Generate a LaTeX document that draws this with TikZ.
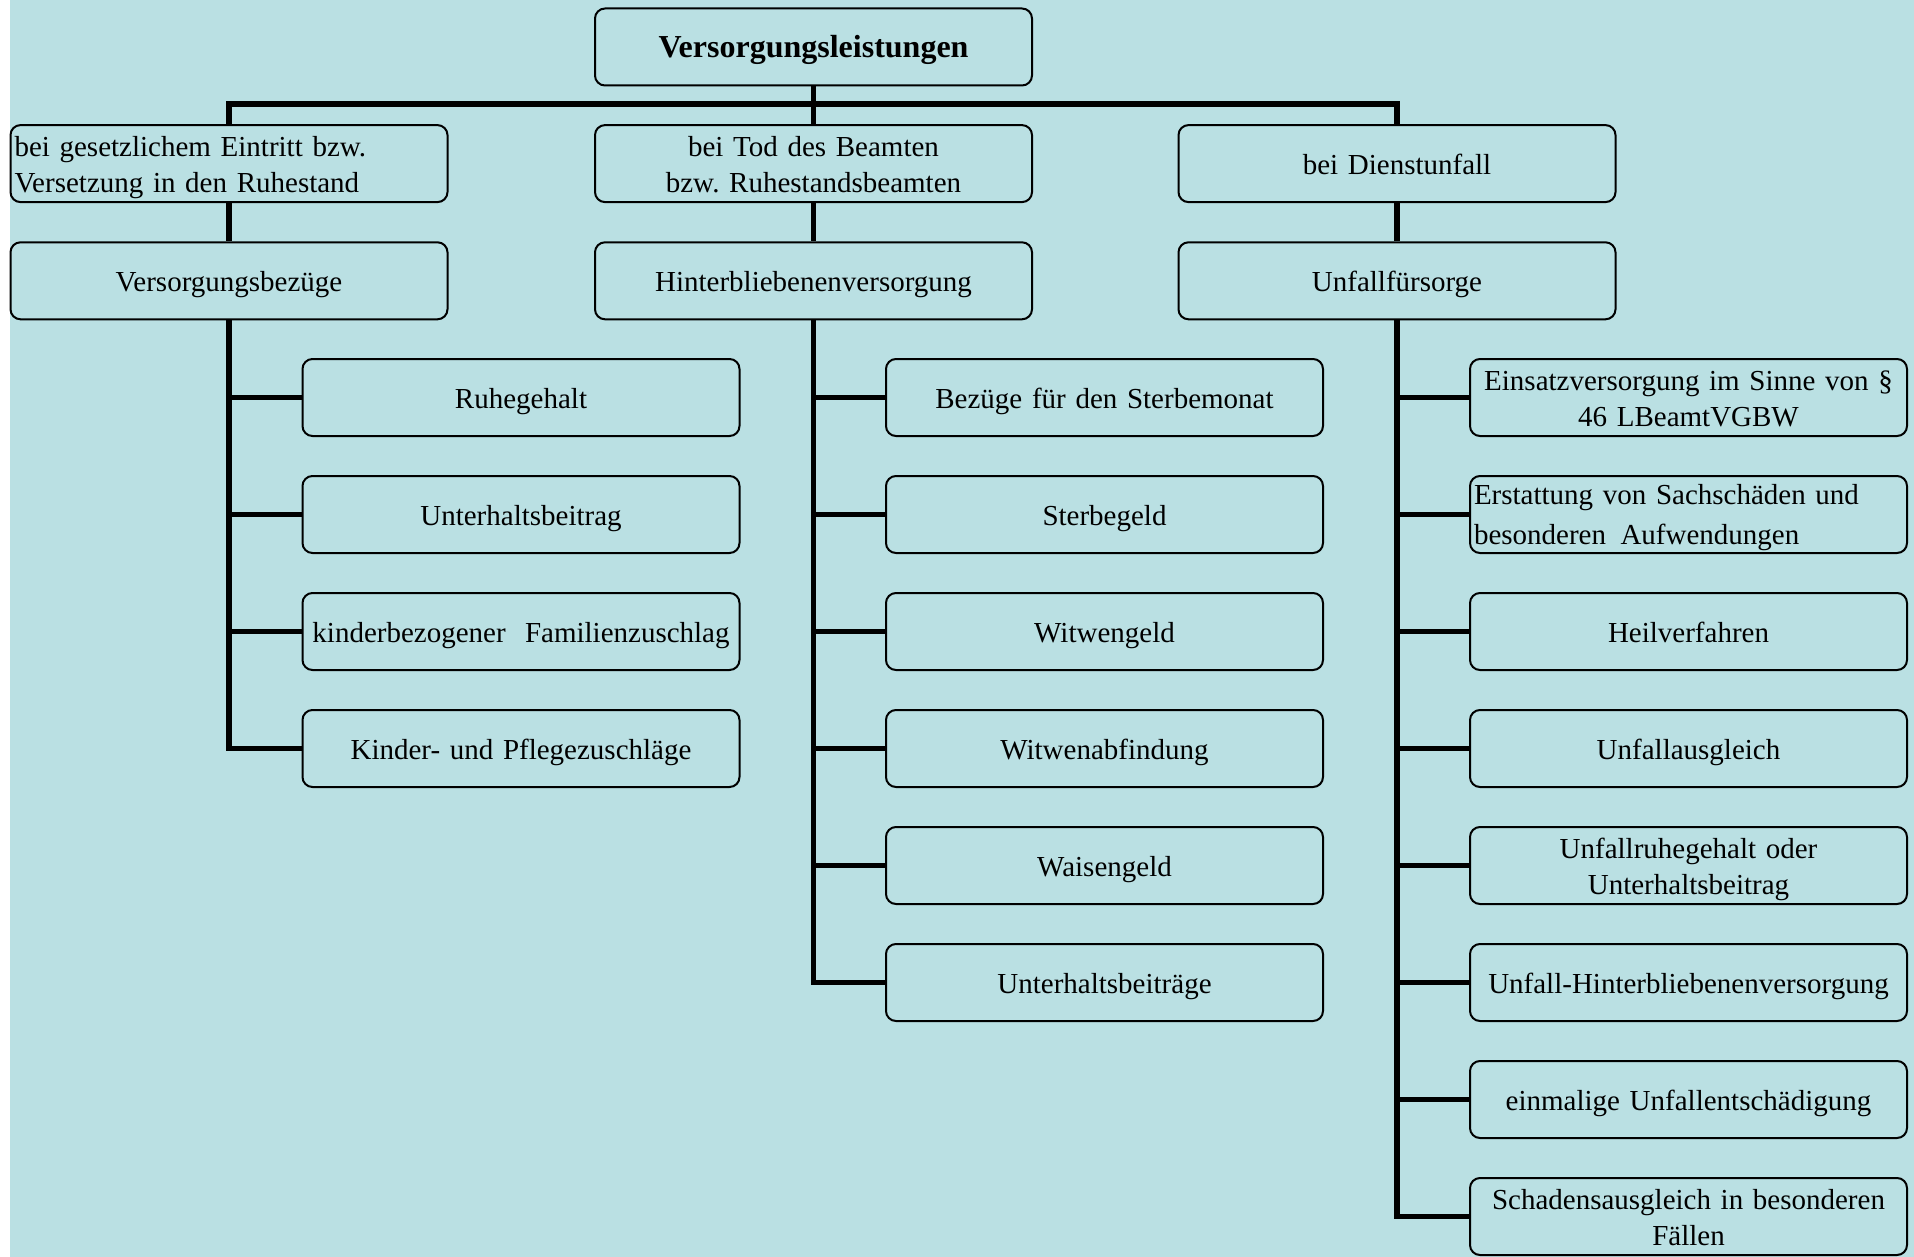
\documentclass[tikz,border=0pt]{standalone}
\usepackage{fontspec}
\setmainfont{Liberation Serif}
\frenchspacing
\definecolor{bgc}{RGB}{186,224,227}
\begin{document}
\begin{tikzpicture}[x=1pt,y=-1pt,
 box/.style={draw=black, line width=2pt, rounded corners=10pt, minimum width=437pt, minimum height=77pt, inner xsep=4pt, inner ysep=0pt, text width=429pt, align=center, font=\fontsize{29}{35.5}\selectfont, text height=21pt, text depth=0pt},
 twoline/.style={text height=0pt, text depth=14pt},
 conn/.style={line width=5.5pt, line join=miter, draw=black}]
\useasboundingbox (0,0) rectangle (1914,1257);
\fill[white] (0,0) rectangle (1914,1257);
\fill[bgc] (10,0) rectangle (1914,1257);
% top
\node[box, font=\bfseries\fontsize{32}{38}\selectfont, text height=22pt] (top) at (813.5,47) {Versorgungsleistungen};
% level 1
\node[box, twoline, align=left] (a1) at (229,163.6) {bei gesetzlichem Eintritt bzw.\\Versetzung in den Ruhestand};
\node[box, twoline] (a2) at (813.5,163.6) {bei Tod des Beamten\\bzw. Ruhestandsbeamten};
\node[box] (a3) at (1397,163.6) {bei Dienstunfall};
% level 2
\node[box] (b1) at (229,280.8) {Versorgungsbez\"uge};
\node[box] (b2) at (813.5,280.8) {Hinterbliebenenversorgung};
\node[box] (b3) at (1397,280.8) {Unfallf\"ursorge};
% left column
\node[box] (l1) at (521,397.5) {Ruhegehalt};
\node[box] (l2) at (521,514.5) {Unterhaltsbeitrag};
\node[box] (l3) at (521,631.5) {kinderbezogener\ \ Familienzuschlag};
\node[box] (l4) at (521,748.5) {Kinder- und Pflegezuschl\"age};
% middle column
\node[box] (m1) at (1104.5,397.5) {Bez\"uge f\"ur den Sterbemonat};
\node[box] (m2) at (1104.5,514.5) {Sterbegeld};
\node[box] (m3) at (1104.5,631.5) {Witwengeld};
\node[box] (m4) at (1104.5,748.5) {Witwenabfindung};
\node[box] (m5) at (1104.5,865.5) {Waisengeld};
\node[box] (m6) at (1104.5,982.5) {Unterhaltsbeitr\"age};
% right column
\node[box, twoline] (r1) at (1688.5,397.5) {Einsatzversorgung im Sinne von \S\\46 LBeamtVGBW};
\node[box, align=left, font=\fontsize{29}{40}\selectfont, text height=0pt, text depth=20.6pt] (r2) at (1688.5,514.5) {Erstattung von Sachsch\"aden und\\besonderen\ \,Aufwendungen};
\node[box] (r3) at (1688.5,631.5) {Heilverfahren};
\node[box] (r4) at (1688.5,748.5) {Unfallausgleich};
\node[box, twoline] (r5) at (1688.5,865.5) {Unfallruhegehalt oder\\Unterhaltsbeitrag};
\node[box] (r6) at (1688.5,982.5) {Unfall-Hinterbliebenenversorgung};
\node[box] (r7) at (1688.5,1099.5) {einmalige Unfallentsch\"adigung};
\node[box, twoline] (r8) at (1688.5,1216.5) {Schadensausgleich in besonderen\\F\"allen};
% connectors
\coordinate (bus) at (813.5,103.8);
\draw[conn] (a1.north) |- (bus -| a3.north) -- (a3.north);
\draw[conn] (top.south) -- (a2.north);
\draw[conn] (a1.south) -- (b1.north);
\draw[conn] (a2.south) -- (b2.north);
\draw[conn] (a3.south) -- (b3.north);
\draw[conn] (b1.south) |- (l4.west);
\foreach \n in {l1,l2,l3} \draw[conn] (b1.south |- \n.west) -- (\n.west);
\draw[conn] (b2.south) |- (m6.west);
\foreach \n in {m1,m2,m3,m4,m5} \draw[conn] (b2.south |- \n.west) -- (\n.west);
\draw[conn] (b3.south) |- (r8.west);
\foreach \n in {r1,r2,r3,r4,r5,r6,r7} \draw[conn] (b3.south |- \n.west) -- (\n.west);
\end{tikzpicture}
\end{document}
